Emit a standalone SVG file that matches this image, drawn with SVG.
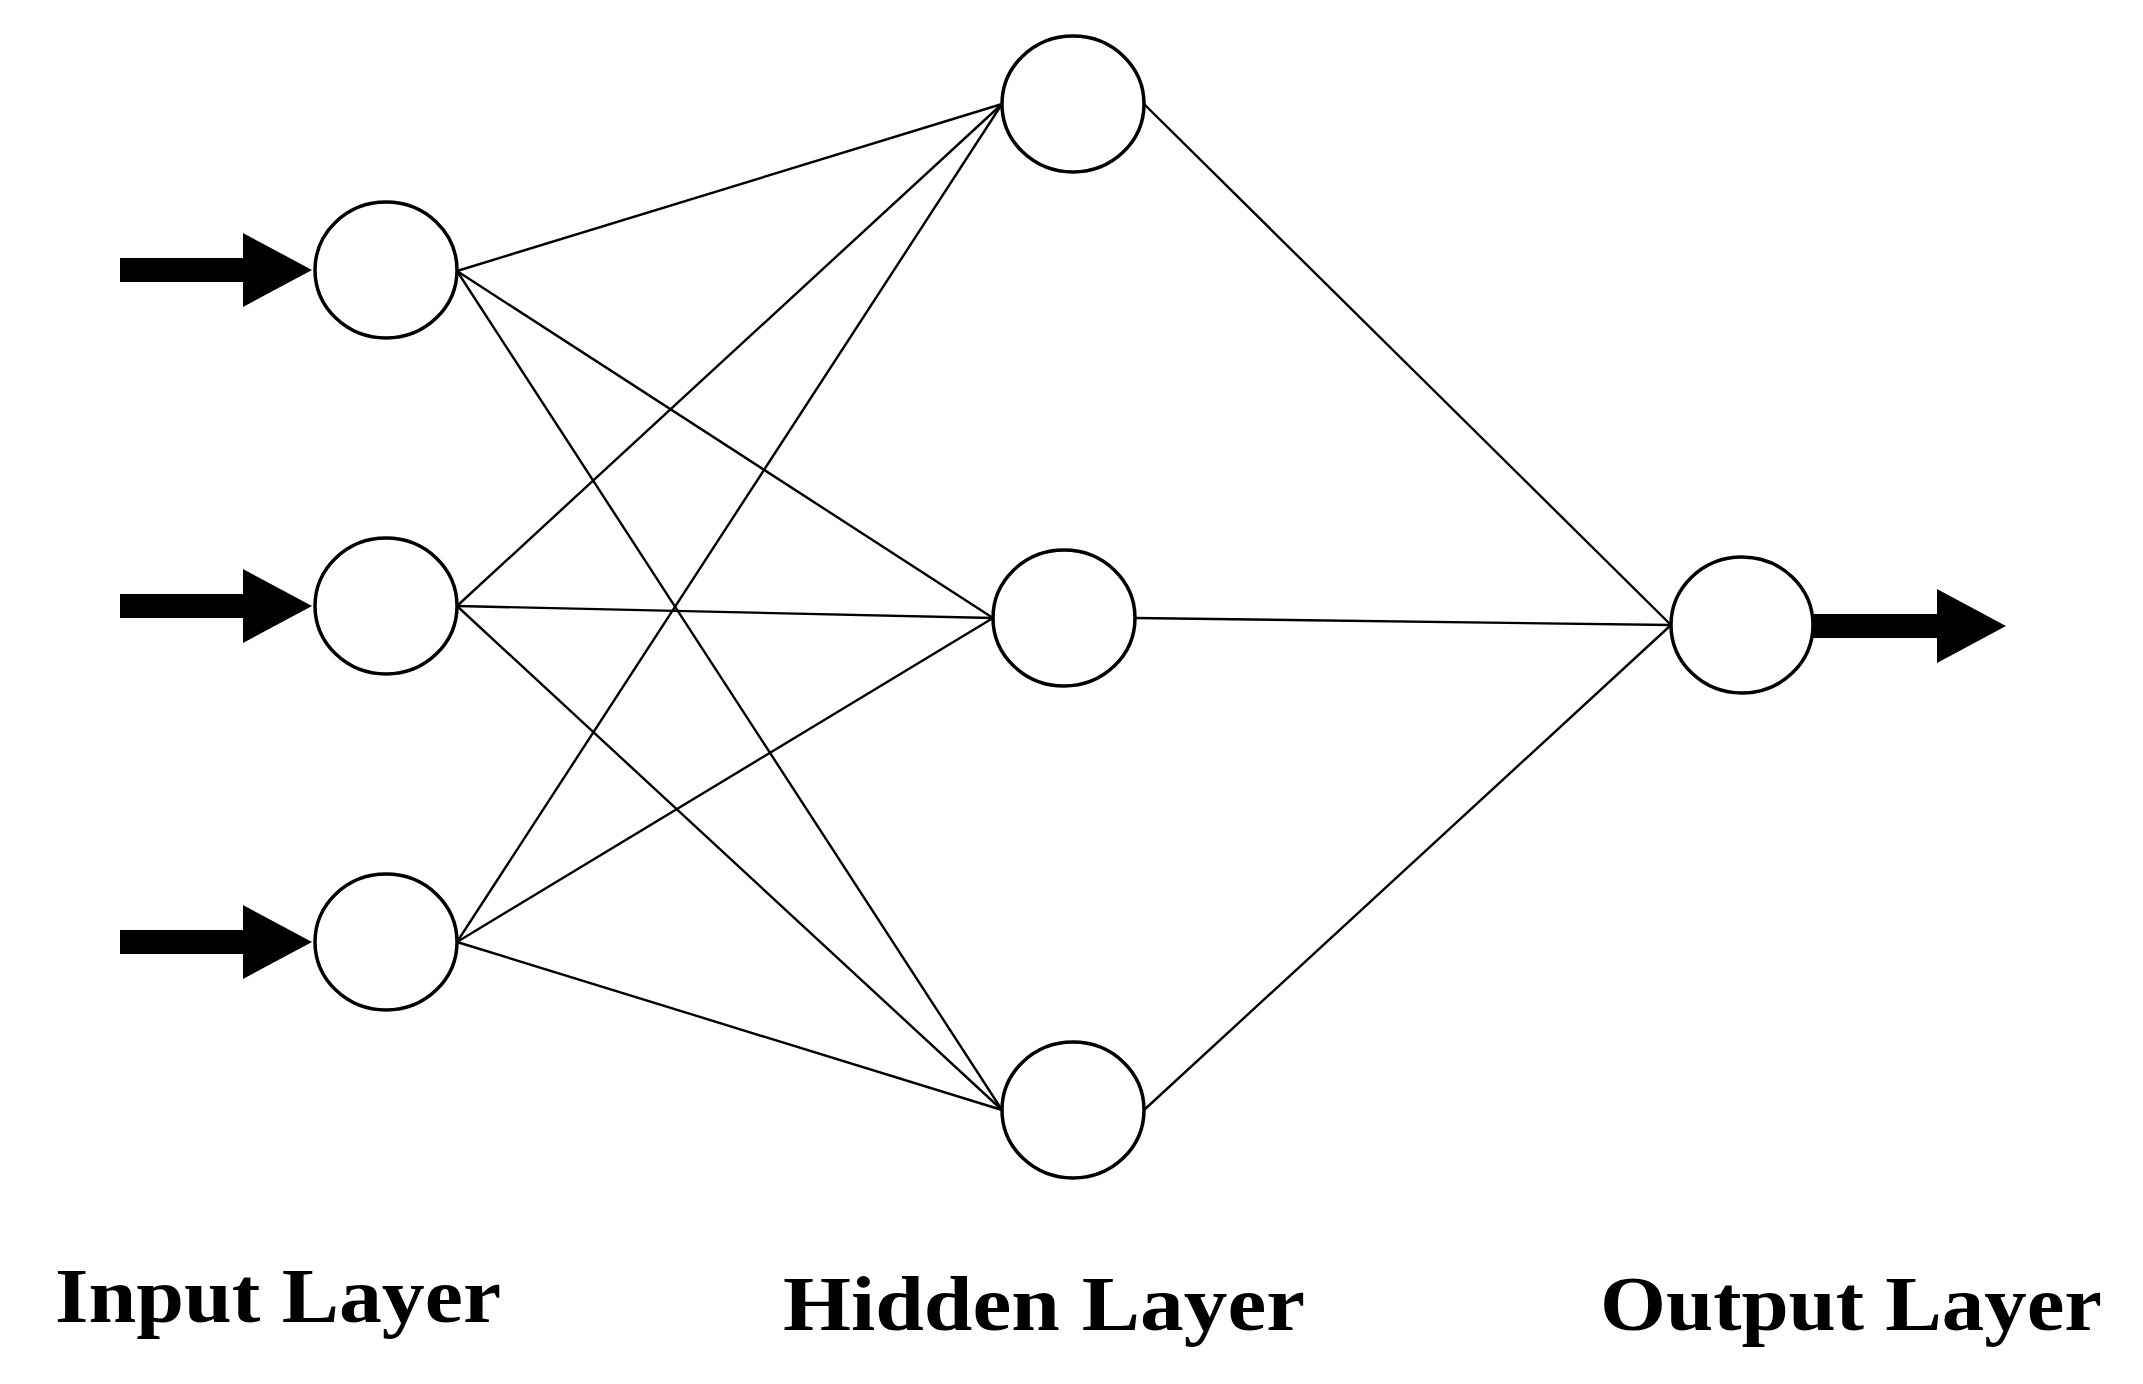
<svg xmlns="http://www.w3.org/2000/svg" width="2143" height="1384" viewBox="0 0 2143 1384">
<style>
.n{fill:#fff;stroke:#000;stroke-width:3.5}
.e{stroke:#000;stroke-width:2.4;fill:none}
.a{fill:#000}
.t{font-family:"Liberation Serif",serif;font-size:78px;font-weight:bold;fill:#000}
</style>
<g id="connectors">
<line class="e" x1="457" y1="271" x2="1002" y2="104"/>
<line class="e" x1="457" y1="271" x2="993" y2="618"/>
<line class="e" x1="457" y1="271" x2="1002" y2="1110"/>
<line class="e" x1="457" y1="606" x2="1002" y2="104"/>
<line class="e" x1="457" y1="606" x2="993" y2="618"/>
<line class="e" x1="457" y1="606" x2="1002" y2="1110"/>
<line class="e" x1="457" y1="942" x2="1002" y2="104"/>
<line class="e" x1="457" y1="942" x2="993" y2="618"/>
<line class="e" x1="457" y1="942" x2="1002" y2="1110"/>
<line class="e" x1="1144" y1="104" x2="1671" y2="625"/>
<line class="e" x1="1135" y1="618" x2="1671" y2="625"/>
<line class="e" x1="1144" y1="1110" x2="1671" y2="625"/>
<path class="a" d="M120,258 H243 V233 L312,270 L243,307 V282 H120 Z"/>
<path class="a" d="M120,594 H243 V569 L312,606 L243,643 V618 H120 Z"/>
<path class="a" d="M120,930 H243 V905 L312,942 L243,979 V954 H120 Z"/>
<path class="a" d="M1813,614 H1937 V589 L2006,626 L1937,663 V638 H1813 Z"/>
</g>
<g id="in1"><ellipse class="n" cx="386" cy="270" rx="71" ry="68"/></g>
<g id="in2"><ellipse class="n" cx="386" cy="606" rx="71" ry="68"/></g>
<g id="in3"><ellipse class="n" cx="386" cy="942" rx="71" ry="68"/></g>
<g id="h1"><ellipse class="n" cx="1073" cy="104" rx="71" ry="68"/></g>
<g id="h2"><ellipse class="n" cx="1064" cy="618" rx="71" ry="68"/></g>
<g id="h3"><ellipse class="n" cx="1073" cy="1110" rx="71" ry="68"/></g>
<g id="out"><ellipse class="n" cx="1742" cy="625" rx="71" ry="68"/></g>
<g id="labels">
<text class="t" x="55" y="1322" textLength="446" lengthAdjust="spacingAndGlyphs">Input Layer</text>
<text class="t" x="783" y="1330" textLength="522" lengthAdjust="spacingAndGlyphs">Hidden Layer</text>
<text class="t" x="1600" y="1330" textLength="502" lengthAdjust="spacingAndGlyphs">Output Layer</text>
</g>
</svg>
